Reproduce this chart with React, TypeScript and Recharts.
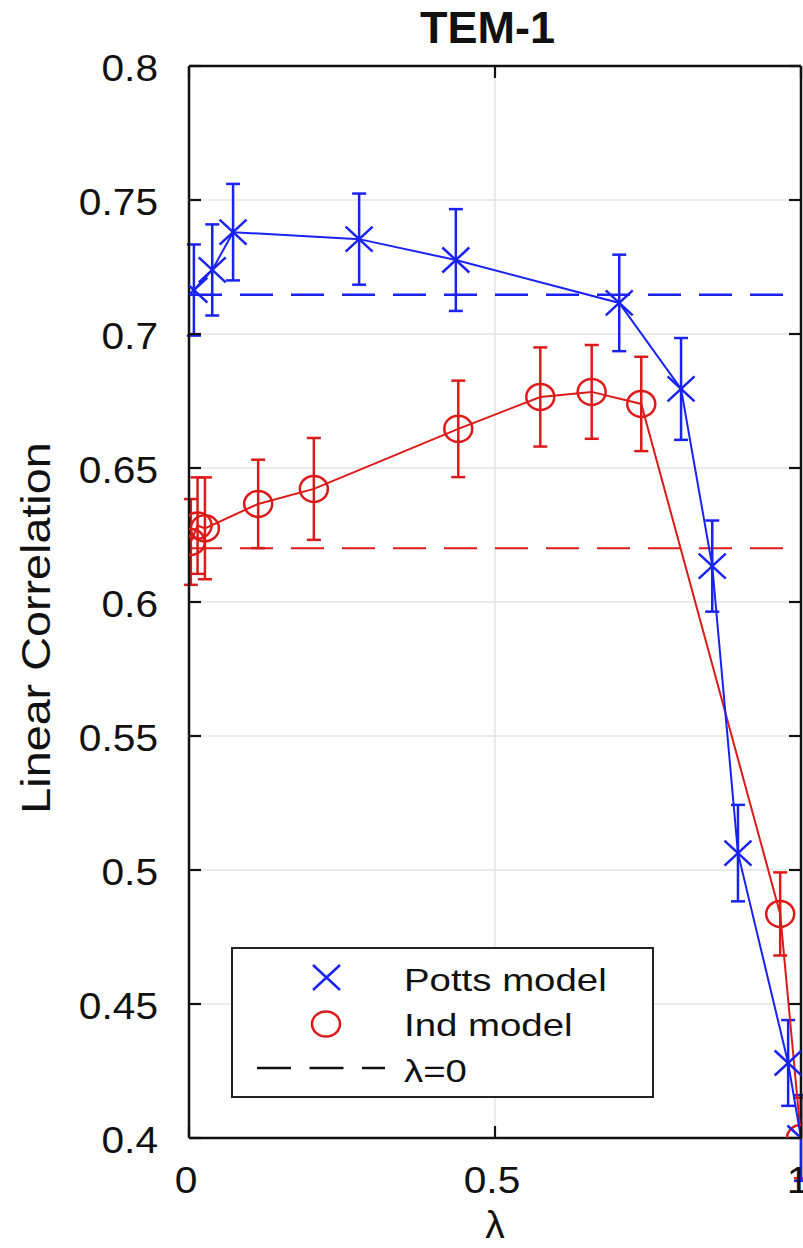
import React from 'react';
import {
  ComposedChart,
  Scatter,
  XAxis,
  YAxis,
  CartesianGrid,
  ErrorBar,
  ReferenceLine,
  Legend,
} from 'recharts';

const BLUE = '#1a22f2';
const RED = '#dc1a1a';
const FONT = '"Liberation Sans", Arial, Helvetica, sans-serif';

// ---- data ----
const pottsLambda = [0.008, 0.038, 0.072, 0.278, 0.436, 0.703, 0.804, 0.855, 0.897, 0.979, 1.0];
const pottsCorr = [0.7164, 0.7239, 0.738, 0.7354, 0.7276, 0.7116, 0.6795, 0.6134, 0.5063, 0.428, 0.4];
const pottsErr = [0.017, 0.017, 0.018, 0.017, 0.019, 0.018, 0.019, 0.017, 0.018, 0.016, 0.016];

const indLambda = [0.003, 0.014, 0.026, 0.113, 0.204, 0.44, 0.574, 0.658, 0.739, 0.966, 1.0];
const indCorr = [0.6224, 0.6285, 0.6275, 0.6366, 0.6422, 0.6646, 0.6765, 0.6784, 0.6739, 0.4836, 0.4];
const indErr = [0.016, 0.018, 0.019, 0.0165, 0.019, 0.018, 0.0185, 0.0175, 0.0176, 0.0155, 0.015];

const pottsBaseline = 0.7146;
const indBaseline = 0.6201;

const xTicks = [0, 0.5, 1];
const xTickLabels = ['0', '0.5', '1'];
const yTicks = [0.4, 0.45, 0.5, 0.55, 0.6, 0.65, 0.7, 0.75, 0.8];
const yTickLabels = ['0.4', '0.45', '0.5', '0.55', '0.6', '0.65', '0.7', '0.75', '0.8'];

const title = 'TEM-1';
const xLabel = 'λ';
const yLabel = 'Linear Correlation';
const legendLabels = ['Potts model', 'Ind model', 'λ=0'];

const pottsData = pottsLambda.map((x, i) => ({ x, y: pottsCorr[i], err: pottsErr[i] }));
const indData = indLambda.map((x, i) => ({ x, y: indCorr[i], err: indErr[i] }));

// ---- shapes ----
const XMark = (props: any) => {
  const { cx, cy } = props;
  if (cx == null || cy == null) return null;
  const hx = 13.5;
  const hy = 12.5;
  return (
    <g stroke={BLUE} strokeWidth={2.5} fill="none">
      <line x1={cx - hx} y1={cy - hy} x2={cx + hx} y2={cy + hy} />
      <line x1={cx - hx} y1={cy + hy} x2={cx + hx} y2={cy - hy} />
    </g>
  );
};

const OMark = (props: any) => {
  const { cx, cy } = props;
  if (cx == null || cy == null) return null;
  return <ellipse cx={cx} cy={cy} rx={14} ry={13} stroke={RED} strokeWidth={2.5} fill="none" />;
};

const STxt = ({ x, y, sx = 1, sy = 1, children, ...rest }: any) => (
  <text transform={`translate(${x},${y}) scale(${sx},${sy})`} x={0} y={0} {...rest}>
    {children}
  </text>
);

const LeftTick = (props: any) => {
  const { x, y, payload } = props;
  const i = yTicks.indexOf(payload.value);
  const label = i >= 0 ? yTickLabels[i] : String(payload.value);
  return (
    <g>
      <line x1={x} y1={y} x2={x + 12} y2={y} stroke="#111" strokeWidth={2.2} />
      <STxt x={x - 31} y={y + 15} sx={1.13} textAnchor="end" fontSize={36} fontFamily={FONT} fill="#111">
        {label}
      </STxt>
    </g>
  );
};

const RightTick = (props: any) => {
  const { x, y } = props;
  return <line x1={x} y1={y} x2={x - 12} y2={y} stroke="#111" strokeWidth={2.2} />;
};

const BottomTick = (props: any) => {
  const { x, y, payload } = props;
  const i = xTicks.indexOf(payload.value);
  const label = i >= 0 ? xTickLabels[i] : String(payload.value);
  return (
    <g>
      <line x1={x} y1={y} x2={x} y2={y - 12} stroke="#111" strokeWidth={2.2} />
      <STxt x={x - 3} y={y + 55} sx={1.13} textAnchor="middle" fontSize={36} fontFamily={FONT} fill="#111">
        {label}
      </STxt>
    </g>
  );
};

const TopTick = (props: any) => {
  const { x, y } = props;
  return <line x1={x} y1={y} x2={x} y2={y + 12} stroke="#111" strokeWidth={2.2} />;
};

const YLabel = (props: any) => {
  const vb = props.viewBox || { x: 0, y: 66, width: 189, height: 1072 };
  const bx = vb.x + 50;
  const cy = 628;
  return (
    <text
      transform={`translate(${bx},${cy}) rotate(-90) scale(1.14,1)`}
      x={0}
      y={0}
      textAnchor="middle"
      fontSize={41}
      fontFamily={FONT}
      fill="#111"
    >
      {yLabel}
    </text>
  );
};

const XLabel = (props: any) => {
  const vb = props.viewBox || { x: 189, y: 1138, width: 612, height: 110 };
  const cx = vb.x + vb.width / 2;
  return (
    <STxt x={cx} y={vb.y + 100} textAnchor="middle" fontSize={39} fontFamily={FONT} fill="#111">
      {xLabel}
    </STxt>
  );
};

const LegendBox = () => (
  <div
    style={{
      width: 423,
      height: 151,
      boxSizing: 'border-box',
      border: '2.5px solid #222',
      background: '#fff',
    }}
  >
    <svg width={418} height={146} style={{ display: 'block', overflow: 'visible' }}>
      <g stroke={BLUE} strokeWidth={2.5}>
        <line x1={80} y1={16} x2={107} y2={41} />
        <line x1={80} y1={41} x2={107} y2={16} />
      </g>
      <ellipse cx={93} cy={75} rx={14} ry={12.5} stroke={RED} strokeWidth={2.5} fill="none" />
      <line x1={24} y1={119} x2={152} y2={119} stroke="#111" strokeWidth={2.5} strokeDasharray="34 18.5" />
      <STxt x={171} y={42} sx={1.2} fontSize={32} fontFamily={FONT} fill="#111">{legendLabels[0]}</STxt>
      <STxt x={171} y={87} sx={1.2} fontSize={32} fontFamily={FONT} fill="#111">{legendLabels[1]}</STxt>
      <STxt x={171} y={133} sx={1.2} fontSize={32} fontFamily={FONT} fill="#111">{legendLabels[2]}</STxt>
    </svg>
  </div>
);

export default function App() {
  return (
    <div style={{ position: 'absolute', left: 0, top: 0, width: 803, height: 1248, background: '#fff', overflow: 'hidden' }}>
      <div
        style={{
          position: 'absolute',
          left: 0,
          top: 4,
          width: 975,
          textAlign: 'center',
          fontFamily: FONT,
          fontWeight: 'bold',
          fontSize: 45,
          color: '#111',
          lineHeight: '48px',
        }}
      >
        {title}
      </div>
      <ComposedChart
        width={803}
        height={1248}
        margin={{ top: 65, right: 1, bottom: 0, left: 0 }}
        style={{ position: 'absolute', left: 0, top: 0 }}
      >
        <CartesianGrid stroke="#e4e4e4" strokeWidth={1.5} horizontalValues={yTicks} verticalValues={xTicks} />
        <XAxis
          xAxisId={0}
          dataKey="x"
          type="number"
          domain={[0, 1]}
          ticks={xTicks}
          allowDataOverflow
          height={110}
          tickSize={0}
          tickMargin={0}
          tickLine={false}
          axisLine={{ stroke: '#111', strokeWidth: 2.5 }}
          tick={BottomTick}
          interval={0}
          label={<XLabel />}
        />
        <XAxis
          xAxisId="top"
          orientation="top"
          dataKey="x"
          type="number"
          domain={[0, 1]}
          ticks={xTicks}
          allowDataOverflow
          height={1}
          tickSize={0}
          tickMargin={0}
          tickLine={false}
          axisLine={{ stroke: '#111', strokeWidth: 2.5 }}
          tick={TopTick}
          interval={0}
        />
        <YAxis
          yAxisId={0}
          dataKey="y"
          type="number"
          domain={[0.4, 0.8]}
          ticks={yTicks}
          allowDataOverflow
          width={189}
          tickSize={0}
          tickMargin={0}
          tickLine={false}
          axisLine={{ stroke: '#111', strokeWidth: 2.5 }}
          tick={LeftTick}
          interval={0}
          label={<YLabel />}
        />
        <YAxis
          yAxisId="right"
          orientation="right"
          dataKey="y"
          type="number"
          domain={[0.4, 0.8]}
          ticks={yTicks}
          allowDataOverflow
          width={1}
          tickSize={0}
          tickMargin={0}
          tickLine={false}
          axisLine={{ stroke: '#111', strokeWidth: 2.5 }}
          tick={RightTick}
          interval={0}
        />
        <ReferenceLine y={pottsBaseline} stroke={BLUE} strokeWidth={2.5} strokeDasharray="33 18" />
        <ReferenceLine y={indBaseline} stroke={RED} strokeWidth={2} strokeDasharray="33 18" />
        <Scatter
          data={indData}
          dataKey="y"
          line={{ stroke: RED, strokeWidth: 2 }}
          lineJointType="linear"
          shape={<OMark />}
          fill={RED}
          isAnimationActive={false}
        >
          <ErrorBar dataKey="err" direction="y" width={7} stroke={RED} strokeWidth={2.5} />
        </Scatter>
        <Scatter
          data={pottsData}
          dataKey="y"
          line={{ stroke: BLUE, strokeWidth: 2 }}
          lineJointType="linear"
          shape={<XMark />}
          fill={BLUE}
          isAnimationActive={false}
        >
          <ErrorBar dataKey="err" direction="y" width={7} stroke={BLUE} strokeWidth={2.5} />
        </Scatter>
        <Legend
          layout="horizontal"
          verticalAlign="middle"
          align="center"
          content={() => <LegendBox />}
          wrapperStyle={{ position: 'absolute', left: 231, top: 947, width: 423, height: 151 }}
        />
      </ComposedChart>
    </div>
  );
}
